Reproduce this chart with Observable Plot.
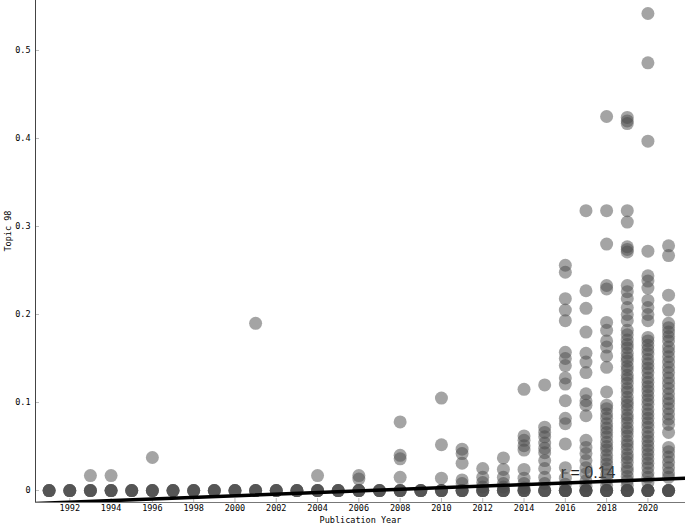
<!DOCTYPE html>
<html>
<head>
<meta charset="utf-8">
<script src="https://cdn.jsdelivr.net/npm/d3@7"></script>
<script src="https://cdn.jsdelivr.net/npm/@observablehq/plot@0.6"></script>
<style>
  html, body { margin: 0; padding: 0; background: #fff; }
  #chart svg { display: block; }
</style>
</head>
<body>
<div id="chart"></div>
<script>
// ---- Data ----
const years = [1991, 1992, 1993, 1994, 1995, 1996, 1997, 1998, 1999, 2000,
               2001, 2002, 2003, 2004, 2005, 2006, 2007, 2008, 2009, 2010,
               2011, 2012, 2013, 2014, 2015, 2016, 2017, 2018, 2019, 2020, 2021];

// Topic 98 scores per publication year (each list aligned with `years`)
const valuesByYear = [
  [0, 0, 0, 0],                                   // 1991
  [0, 0, 0, 0],                                   // 1992
  [0.017, 0, 0, 0, 0],                            // 1993
  [0.017, 0, 0, 0, 0],                            // 1994
  [0, 0, 0, 0],                                   // 1995
  [0.0375, 0, 0, 0, 0],                           // 1996
  [0, 0, 0, 0],                                   // 1997
  [0, 0, 0, 0],                                   // 1998
  [0, 0, 0, 0],                                   // 1999
  [0, 0, 0, 0],                                   // 2000
  [0.19, 0, 0, 0, 0],                             // 2001
  [0, 0, 0, 0],                                   // 2002
  [0, 0, 0, 0],                                   // 2003
  [0.017, 0, 0, 0, 0],                            // 2004
  [0, 0, 0, 0],                                   // 2005
  [0.017, 0.013, 0, 0, 0, 0],                     // 2006
  [0, 0, 0, 0],                                   // 2007
  [0.078, 0.04, 0.036, 0.015, 0, 0, 0, 0],        // 2008
  [0, 0, 0, 0],                                   // 2009
  [0.105, 0.052, 0.014, 0, 0, 0, 0],              // 2010
  [0.047, 0.042, 0.031, 0.012, 0.008, 0, 0, 0, 0],// 2011
  [0.025, 0.015, 0.009, 0.004, 0, 0, 0, 0],       // 2012
  [0.037, 0.024, 0.015, 0.008, 0.004, 0, 0, 0, 0],// 2013
  [0.115, 0.062, 0.057, 0.051, 0.046, 0.024, 0.014, 0.008, 0.003, 0, 0, 0, 0], // 2014
  [0.12, 0.072, 0.066, 0.061, 0.054, 0.048, 0.043, 0.034, 0.025, 0.015, 0.008, 0, 0, 0, 0], // 2015
  [0.256, 0.248, 0.218, 0.205, 0.193, 0.157, 0.15, 0.142, 0.128, 0.121, 0.102,
   0.082, 0.076, 0.053, 0.026, 0.014, 0.007, 0, 0, 0, 0, 0],                 // 2016
  [0.318, 0.227, 0.207, 0.18, 0.156, 0.146, 0.134, 0.11, 0.102, 0.097, 0.085,
   0.057, 0.049, 0.042, 0.034, 0.026, 0.019, 0.011, 0.005, 0, 0, 0, 0, 0],   // 2017
  [0.425, 0.318, 0.28, 0.233, 0.229, 0.191, 0.182, 0.17, 0.163, 0.153, 0.14,
   0.112, 0.097, 0.093, 0.087, 0.082, 0.076, 0.071, 0.066, 0.061, 0.055,
   0.05, 0.046, 0.04, 0.035, 0.03, 0.025, 0.018, 0.012, 0.006, 0, 0, 0, 0, 0], // 2018
  [0.424, 0.42, 0.417, 0.318, 0.305, 0.277, 0.274, 0.271, 0.233, 0.226, 0.218,
   0.208, 0.2, 0.193, 0.182, 0.177, 0.171, 0.166, 0.162, 0.156, 0.151, 0.147,
   0.141, 0.137, 0.131, 0.127, 0.122, 0.116, 0.112, 0.106, 0.101, 0.097,
   0.092, 0.086, 0.082, 0.077, 0.071, 0.067, 0.062, 0.056, 0.052, 0.047,
   0.041, 0.037, 0.032, 0.026, 0.022, 0.016, 0.011, 0.006, 0, 0, 0, 0, 0],   // 2019
  [0.542, 0.486, 0.397, 0.272, 0.244, 0.238, 0.23, 0.216, 0.208, 0.2, 0.193,
   0.174, 0.17, 0.165, 0.16, 0.155, 0.149, 0.144, 0.139, 0.134, 0.128, 0.123,
   0.118, 0.113, 0.108, 0.103, 0.098, 0.092, 0.087, 0.082, 0.077, 0.072,
   0.066, 0.061, 0.056, 0.051, 0.046, 0.041, 0.036, 0.031, 0.026, 0.02,
   0.015, 0.009, 0, 0, 0, 0, 0],                                              // 2020
  [0.278, 0.267, 0.222, 0.205, 0.19, 0.185, 0.18, 0.175, 0.17, 0.163, 0.158,
   0.152, 0.146, 0.14, 0.134, 0.128, 0.122, 0.116, 0.11, 0.104, 0.099, 0.093,
   0.087, 0.081, 0.075, 0.066, 0.049, 0.044, 0.038, 0.032, 0.026, 0.02,
   0.015, 0, 0, 0, 0, 0]                                                      // 2021
];

// Fitted regression line (end points)
const regYears = [1990.34, 2021.82];
const regValues = [-0.0148, 0.014];

// Annotation
const annoText = ["r = 0.14"];
const annoYear = [2015.78];
const annoValue = [0.0205];

// Axis ticks
const xTicks = [1992, 1994, 1996, 1998, 2000, 2002, 2004, 2006, 2008, 2010,
                2012, 2014, 2016, 2018, 2020];
const yTicks = [0, 0.1, 0.2, 0.3, 0.4, 0.5];
const yTickLabels = ["0", "0.1", "0.2", "0.3", "0.4", "0.5"];

// ---- Build tables ----
const points = years.flatMap((yr, i) => valuesByYear[i].map(v => ({year: yr, value: v})));
const regLine = regYears.map((x, i) => ({year: x, value: regValues[i]}));
const anno = annoText.map((t, i) => ({text: t, year: annoYear[i], value: annoValue[i]}));

const xDomain = [1990.34, 2021.82];
const yDomain = [-0.0136, 0.5568];

const fontMono = "'DejaVu Sans Mono', 'Liberation Mono', monospace";

const chart = Plot.plot({
  width: 685,
  height: 529,
  marginLeft: 35,
  marginRight: 0,
  marginTop: 0,
  marginBottom: 27,
  style: {fontFamily: fontMono, fontSize: "8.5px", color: "#000", background: "#fff"},
  x: {domain: xDomain, label: null},
  y: {domain: yDomain, label: null},
  marks: [
    Plot.axisX({ticks: xTicks, tickSize: 0, tickPadding: 2, tickFormat: d => String(d), label: null, fontSize: 8.5}),
    Plot.axisX({ticks: xTicks, tickSize: -4, tickFormat: () => "", stroke: "#bbb", label: null}),
    Plot.axisY({ticks: yTicks, tickSize: 0, tickPadding: 5, tickFormat: (d, i) => yTickLabels[i], label: null, fontSize: 8.5}),
    Plot.axisY({ticks: yTicks, tickSize: -4, tickFormat: () => "", stroke: "#bbb", label: null}),
    Plot.text(anno, {x: "year", y: "value", text: "text", textAnchor: "start", lineAnchor: "middle",
      fontSize: 16, fill: "#222", fontFamily: "'Liberation Sans', Arial, sans-serif"}),
    Plot.dot(points, {x: "year", y: "value", r: 6.5, fill: "#4a4a4a", fillOpacity: 0.5, stroke: "none"}),
    Plot.line(regLine, {x: "year", y: "value", stroke: "#000", strokeWidth: 3.5, clip: true}),
    Plot.ruleX([xDomain[0]], {stroke: "#444", strokeWidth: 1}),
    Plot.ruleY([yDomain[0]], {stroke: "#777", strokeWidth: 1}),
    Plot.text(["Publication Year"], {frameAnchor: "bottom", dy: 20, fontSize: 8.5, fill: "#000"}),
    Plot.text(["Topic 98"], {frameAnchor: "left", dx: -27, rotate: -90, fontSize: 8.5, fill: "#000"})
  ]
});

document.getElementById("chart").appendChild(chart);
</script>
</body>
</html>
